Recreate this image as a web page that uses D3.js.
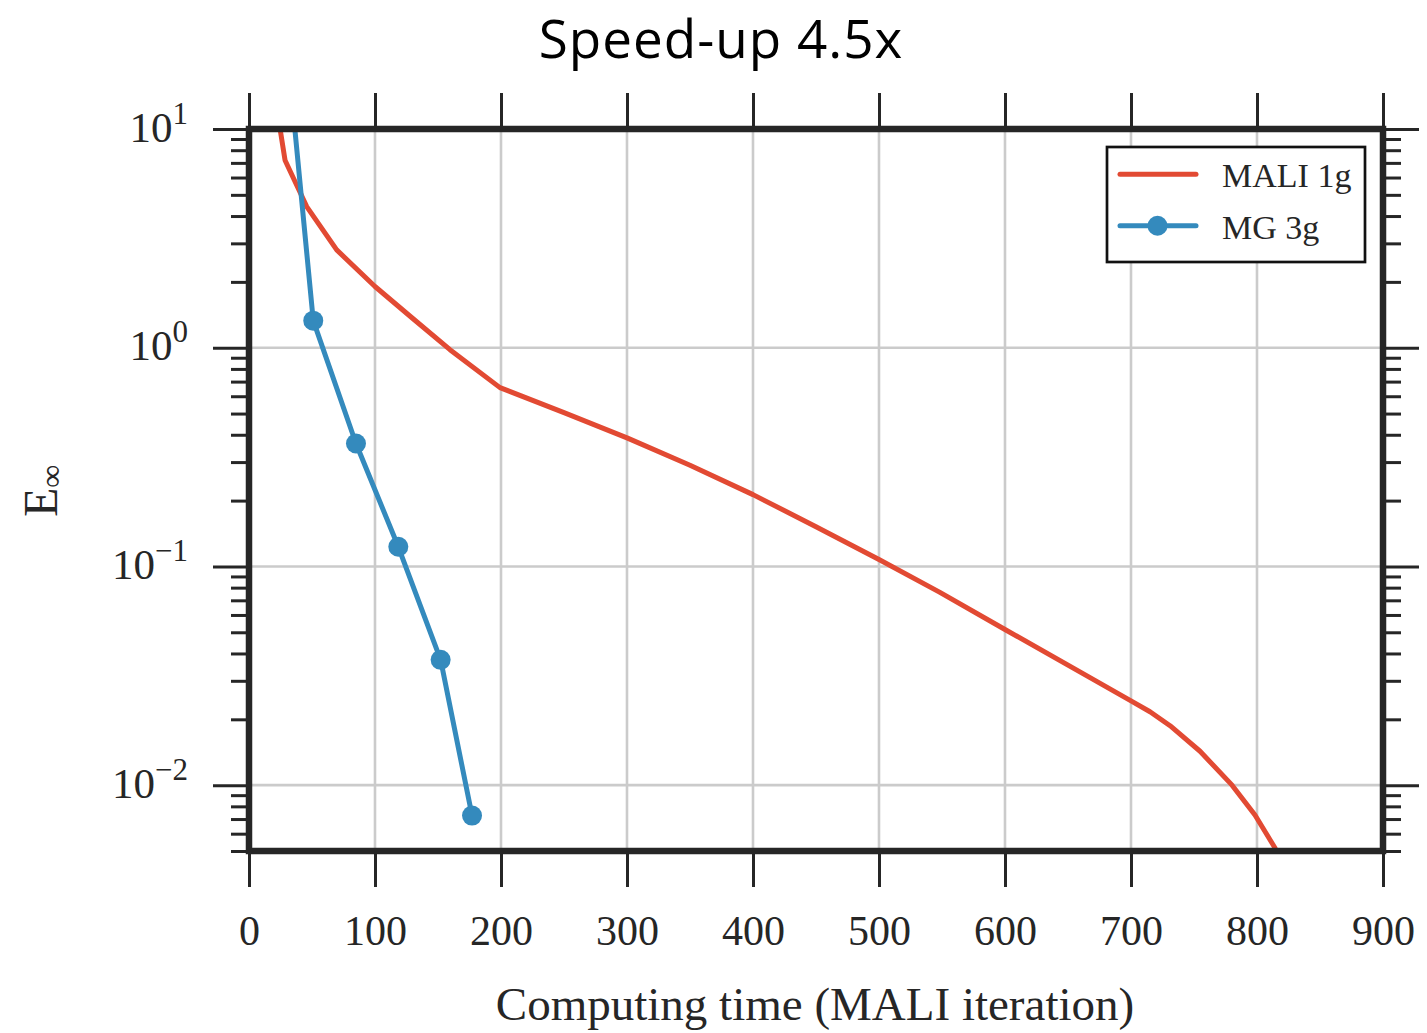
<!DOCTYPE html>
<html>
<head>
<meta charset="utf-8">
<script src="https://cdn.jsdelivr.net/npm/d3@7"></script>
<style>
  html, body { margin: 0; padding: 0; background: #fff; }
  svg { display: block; }
</style>
</head>
<body>
<svg id="chart" width="1427" height="1033"></svg>
<script>
// Convergence of the error norm versus computing time
const maliIter = [17, 28.6, 45.8, 69.6, 100, 130, 159.5, 199.2, 250, 300, 350, 400, 450, 500, 548, 600, 667.5, 700, 715.1, 731.0, 754.8, 780.2, 798.4, 814.3, 816];
const maliErr  = [19, 7.2, 4.42, 2.80, 1.905, 1.36, 0.98, 0.657, 0.505, 0.387, 0.29, 0.213, 0.152, 0.1076, 0.0763, 0.0515, 0.031, 0.0243, 0.02166, 0.0187, 0.01429, 0.0100, 0.0073, 0.00516, 0.0048];

const mgIter = [17, 51.0, 84.9, 118.5, 152.1, 177.0];
const mgErr  = [145, 1.33, 0.365, 0.123, 0.0374, 0.00726];

const xTicks = [0, 100, 200, 300, 400, 500, 600, 700, 800, 900];
const yMajor = [1e-2, 1e-1, 1e0, 1e1];
const yExponents = ["\u22122", "\u22121", "0", "1"];

const seriesNames = ["MALI 1g", "MG 3g"];
const seriesColors = ["#E24A33", "#348ABD"];

const plotLeft = 249, plotRight = 1383, plotTop = 129, plotBottom = 851;

const svg = d3.select("#chart");
const x = d3.scaleLinear().domain([0, 900]).range([plotLeft, plotRight]);
const y = d3.scaleLog().domain([0.005, 10]).range([plotBottom, plotTop]);

// minor log ticks 2..9 per decade inside the domain
const yMinor = [];
[-3, -2, -1, 0].forEach(e => {
  for (let m = 2; m <= 9; m++) {
    const v = m * Math.pow(10, e);
    if (v >= 0.005 - 1e-12 && v <= 10) yMinor.push(v);
  }
});

const ink = "#262626";
const serif = "'Liberation Serif', 'DejaVu Serif', serif";

// grid
const grid = svg.append("g");
grid.selectAll("line.gx").data(xTicks.slice(1, -1)).join("line")
  .attr("x1", d => x(d)).attr("x2", d => x(d))
  .attr("y1", plotTop).attr("y2", plotBottom)
  .attr("stroke", "#cbcbcb").attr("stroke-width", 2.6);
grid.selectAll("line.gy").data(yMajor.filter(v => v < 10)).join("line")
  .attr("x1", plotLeft).attr("x2", plotRight)
  .attr("y1", d => y(d)).attr("y2", d => y(d))
  .attr("stroke", "#cbcbcb").attr("stroke-width", 2.6);

// data
svg.append("clipPath").attr("id", "plotclip")
  .append("rect").attr("x", plotLeft).attr("y", plotTop)
  .attr("width", plotRight - plotLeft).attr("height", plotBottom - plotTop);

const plot = svg.append("g").attr("clip-path", "url(#plotclip)");
const line = d3.line().x(d => x(d[0])).y(d => y(d[1]));

const mali = d3.zip(maliIter, maliErr);
const mg = d3.zip(mgIter, mgErr);

plot.append("path").datum(mali)
  .attr("d", line).attr("fill", "none")
  .attr("stroke", seriesColors[0]).attr("stroke-width", 5)
  .attr("stroke-linejoin", "round").attr("stroke-linecap", "round");

plot.append("path").datum(mg)
  .attr("d", line).attr("fill", "none")
  .attr("stroke", seriesColors[1]).attr("stroke-width", 5)
  .attr("stroke-linejoin", "round").attr("stroke-linecap", "round");

plot.selectAll("circle.mg").data(mg).join("circle")
  .attr("cx", d => x(d[0])).attr("cy", d => y(d[1])).attr("r", 10)
  .attr("fill", seriesColors[1]);

// axes
function styleAxis(g) {
  g.select(".domain").remove();
  g.selectAll(".tick line").attr("stroke", ink).attr("stroke-width", 3);
}

svg.append("g").attr("transform", `translate(0,${plotBottom})`)
  .call(d3.axisBottom(x).tickValues(xTicks).tickSize(36).tickSizeOuter(0).tickFormat(d3.format("d")))
  .call(styleAxis)
  .call(g => g.selectAll("text")
    .attr("y", 94).attr("dy", null)
    .attr("fill", ink).attr("font-family", serif).attr("font-size", 42));

svg.append("g").attr("transform", `translate(0,${plotTop})`)
  .call(d3.axisTop(x).tickValues(xTicks).tickSize(36).tickSizeOuter(0).tickFormat(""))
  .call(styleAxis);

svg.append("g").attr("transform", `translate(${plotLeft},0)`)
  .call(d3.axisLeft(y).tickValues(yMinor).tickSize(18).tickSizeOuter(0).tickFormat(""))
  .call(styleAxis);

svg.append("g").attr("transform", `translate(${plotRight},0)`)
  .call(d3.axisRight(y).tickValues(yMinor).tickSize(18).tickSizeOuter(0).tickFormat(""))
  .call(styleAxis);

svg.append("g").attr("transform", `translate(${plotRight},0)`)
  .call(d3.axisRight(y).tickValues(yMajor).tickSize(36).tickSizeOuter(0).tickFormat(""))
  .call(styleAxis);

const yAxisMajor = svg.append("g").attr("transform", `translate(${plotLeft},0)`)
  .call(d3.axisLeft(y).tickValues(yMajor).tickSize(36).tickSizeOuter(0).tickFormat(""))
  .call(styleAxis);

yAxisMajor.selectAll(".tick").each(function(d, i) {
  const t = d3.select(this).append("text")
    .attr("x", -61).attr("y", 12)
    .attr("text-anchor", "end")
    .attr("fill", ink).attr("font-family", serif).attr("font-size", 43);
  t.append("tspan").text("10");
  t.append("tspan").attr("dy", -18).attr("font-size", 31).text(yExponents[i]);
});

// frame
svg.append("rect")
  .attr("x", plotLeft).attr("y", plotTop)
  .attr("width", plotRight - plotLeft).attr("height", plotBottom - plotTop)
  .attr("fill", "none").attr("stroke", ink).attr("stroke-width", 6.5);

// titles
svg.append("text")
  .attr("x", 721).attr("y", 58).attr("text-anchor", "middle")
  .attr("font-family", "'Open Sans', sans-serif").attr("font-size", 53)
  .attr("letter-spacing", 1)
  .attr("fill", "#000").text("Speed-up 4.5x");

svg.append("text")
  .attr("x", 815).attr("y", 1020).attr("text-anchor", "middle")
  .attr("font-family", serif).attr("font-size", 47)
  .attr("fill", ink).text("Computing time (MALI iteration)");

const yl = svg.append("text")
  .attr("transform", "translate(57,491) rotate(-90)")
  .attr("text-anchor", "middle")
  .attr("font-family", serif).attr("font-size", 48).attr("fill", ink);
yl.append("tspan").text("E");
yl.append("tspan").attr("font-size", 32).attr("dy", 5).text("\u221E");

// legend
const lg = svg.append("g");
lg.append("rect")
  .attr("x", 1107).attr("y", 147).attr("width", 258).attr("height", 115)
  .attr("fill", "#fff").attr("stroke", "#111").attr("stroke-width", 2.7);

const rows = [174.3, 225.7];
seriesNames.forEach((name, i) => {
  lg.append("line")
    .attr("x1", 1120).attr("x2", 1196)
    .attr("y1", rows[i]).attr("y2", rows[i])
    .attr("stroke", seriesColors[i]).attr("stroke-width", 5)
    .attr("stroke-linecap", "round");
  if (i === 1) {
    lg.append("circle").attr("cx", 1157.5).attr("cy", rows[i]).attr("r", 10)
      .attr("fill", seriesColors[i]);
  }
  lg.append("text")
    .attr("x", 1222).attr("y", rows[i] + 13)
    .attr("font-family", serif).attr("font-size", 34)
    .attr("fill", ink).text(name);
});
</script>
</body>
</html>
